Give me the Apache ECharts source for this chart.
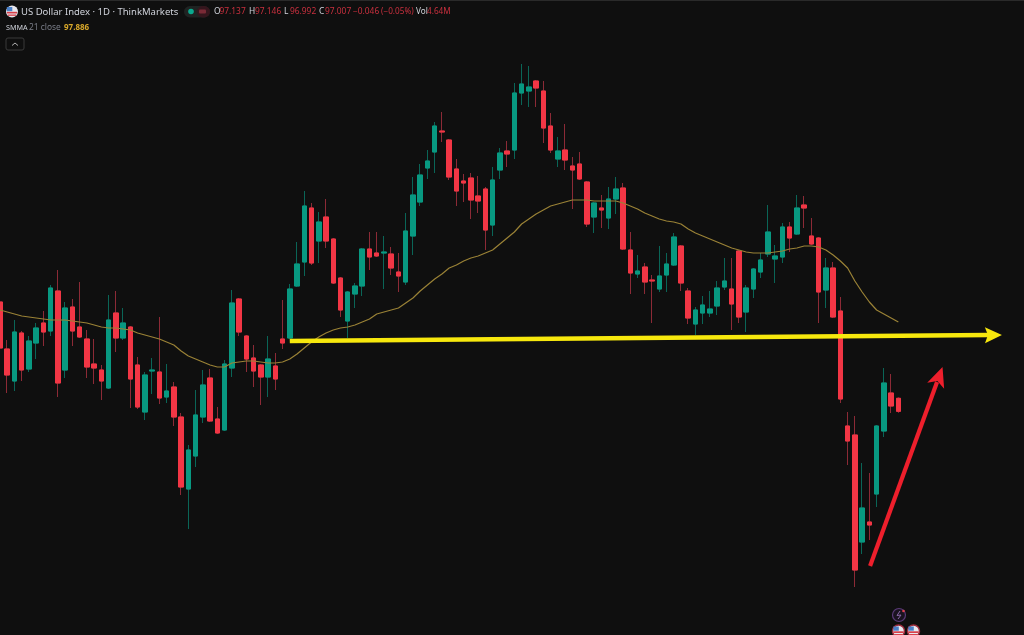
<!DOCTYPE html>
<html><head><meta charset="utf-8">
<style>html,body{margin:0;padding:0;background:#0f0f0f}#c{width:1024px;height:635px}</style>
<script src="https://cdn.jsdelivr.net/npm/echarts@6/dist/echarts.min.js"></script>
</head><body><div id="c"></div>
<script>
const openP=[98.10,97.63,97.31,97.79,97.43,97.69,97.89,97.81,98.21,97.42,98.05,97.85,97.73,97.48,97.42,97.24,97.99,97.74,97.85,97.47,97.00,97.41,97.40,97.15,97.25,96.95,96.23,96.56,96.95,97.34,96.93,96.82,97.44,98.13,97.76,97.54,97.47,97.35,97.46,97.73,97.74,98.26,98.50,99.04,98.71,98.95,98.73,98.34,97.91,98.18,98.26,98.63,98.59,98.59,98.58,98.40,98.30,98.76,99.10,99.44,99.60,99.81,99.72,99.43,99.31,99.34,99.16,99.23,98.87,99.42,99.61,99.62,100.19,100.21,100.31,100.21,99.86,99.53,99.62,99.46,99.48,99.30,98.95,99.04,98.94,99.13,99.24,98.62,98.38,98.45,98.32,98.23,98.37,98.47,98.66,98.21,97.88,97.99,97.99,98.06,98.25,98.23,98.61,98.00,98.23,98.40,98.58,98.53,98.55,98.85,98.78,99.07,98.76,98.74,98.22,98.44,98.01,96.86,96.77,95.70,95.90,96.18,96.81,97.19,97.137];
const closeP=[97.64,97.37,97.80,97.42,97.71,97.84,97.80,98.24,97.29,98.04,97.81,97.75,97.45,97.44,97.31,97.92,97.74,97.89,97.33,97.05,97.37,97.42,97.14,97.21,96.95,96.25,96.62,96.97,97.27,96.91,96.79,97.48,98.09,97.80,97.53,97.41,97.35,97.53,97.33,97.69,98.23,98.48,99.06,98.49,98.90,98.71,98.29,98.02,98.20,98.26,98.63,98.55,98.56,98.60,98.44,98.36,98.81,99.17,99.37,99.51,99.86,99.80,99.35,99.21,99.29,99.12,99.11,98.82,99.32,99.59,99.58,100.19,100.28,100.25,100.24,99.84,99.62,99.61,99.52,99.42,99.33,98.88,99.09,99.02,99.13,99.23,98.63,98.39,98.41,98.30,98.31,98.36,98.48,98.75,98.29,97.94,98.02,98.07,98.03,98.24,98.31,98.08,97.95,98.24,98.43,98.52,98.80,98.56,98.85,98.74,99.04,99.04,98.68,98.20,98.44,97.95,97.13,96.71,95.42,96.04,95.87,96.86,97.29,97.06,97.007];
const lowP=[97.62,97.19,97.21,97.31,97.40,97.53,97.66,97.76,97.15,97.34,97.66,97.74,97.34,97.28,97.12,97.23,97.60,97.72,97.04,97.03,96.92,97.18,97.08,97.09,96.86,96.17,95.83,96.45,96.89,96.90,96.78,96.81,97.35,97.76,97.40,97.25,97.07,97.15,97.22,97.63,97.73,98.25,98.36,98.47,98.49,98.64,98.28,97.95,97.74,98.04,98.16,98.42,98.55,98.23,98.37,98.20,98.27,98.57,99.06,99.33,99.39,99.70,99.32,99.06,99.10,98.93,98.99,98.62,98.76,99.33,99.45,99.53,100.07,100.05,100.05,99.69,99.59,99.45,99.42,99.03,99.32,98.85,98.79,98.84,98.83,98.98,98.62,98.18,98.34,98.18,97.89,98.20,98.20,98.46,98.21,97.88,97.77,97.88,97.95,97.97,98.22,97.82,97.89,97.80,98.14,98.34,98.55,98.29,98.49,98.60,98.77,98.84,98.67,97.89,98.04,97.94,97.09,96.47,95.25,95.58,95.72,96.05,96.75,96.99,96.992];
const highP=[98.12,97.72,97.92,97.81,97.76,97.89,98.01,98.27,98.42,98.10,98.13,98.30,97.82,97.73,97.47,98.17,98.21,98.04,97.86,97.55,97.40,97.54,97.95,97.48,97.30,96.99,96.67,97.22,97.42,97.43,97.05,97.52,98.22,98.14,97.77,97.67,97.48,97.76,97.59,98.12,98.28,98.70,99.21,99.09,99.00,99.13,98.74,98.35,98.21,98.29,98.64,98.80,98.80,98.76,98.65,98.59,98.99,99.35,99.48,99.62,99.90,100.00,99.73,99.53,99.38,99.39,99.36,99.25,99.45,99.64,99.71,100.29,100.48,100.46,100.32,100.31,99.99,99.75,99.88,99.55,99.60,99.31,99.10,99.17,99.25,99.35,99.29,98.80,98.57,98.49,98.37,98.66,98.59,98.79,98.67,98.24,98.05,98.16,98.21,98.31,98.54,98.54,98.62,98.27,98.44,98.59,99.07,98.67,98.89,98.90,99.17,99.16,98.94,98.75,98.54,98.50,98.15,97.00,96.96,96.49,96.39,96.87,97.44,97.38,97.146];
const smma=[98.02,98.00,97.98,97.96,97.95,97.94,97.93,97.92,97.92,97.92,97.91,97.90,97.89,97.87,97.85,97.84,97.84,97.83,97.82,97.79,97.77,97.75,97.73,97.70,97.67,97.61,97.56,97.53,97.50,97.47,97.45,97.45,97.49,97.50,97.51,97.51,97.50,97.49,97.49,97.50,97.53,97.58,97.64,97.70,97.75,97.79,97.82,97.84,97.85,97.87,97.90,97.93,97.98,98.00,98.02,98.04,98.09,98.14,98.21,98.27,98.33,98.38,98.44,98.47,98.51,98.54,98.56,98.59,98.62,98.68,98.74,98.80,98.88,98.93,98.98,99.02,99.06,99.08,99.10,99.12,99.12,99.12,99.11,99.11,99.11,99.11,99.09,99.06,99.03,98.99,98.96,98.93,98.91,98.90,98.88,98.83,98.79,98.76,98.73,98.70,98.67,98.64,98.62,98.60,98.59,98.59,98.59,98.60,98.61,98.63,98.64,98.66,98.66,98.65,98.62,98.57,98.51,98.44,98.31,98.20,98.10,98.02,97.98,97.94,97.90];
// Drawn annotations: [bar position, price] start and tip
const yellowArrow=[[40.0,97.71],[138.3,97.77]];
const redArrow=[[120.1,95.46],[130.1,97.45]];
const slotCount=142;
const cats=Array.from({length:slotCount},(_,i)=>String(i));
const pad=a=>a.concat(Array(slotCount-a.length).fill(null));
const candles=openP.map((o,i)=>[o,closeP[i],lowP[i],highP[i]]);
const bodies=openP.map((o,i)=>[o,closeP[i],Math.min(o,closeP[i]),Math.max(o,closeP[i])]);
const UP='#089981',DOWN='#f23645';
function arrow(pts,color,w,len,half,notch){
  return {type:'custom',xAxisIndex:1,yAxisIndex:0,silent:true,z:6,clip:false,data:[pts[0].concat(pts[1])],
    renderItem:(p,api)=>{
      const a=api.coord([api.value(0),api.value(1)]),b=api.coord([api.value(2),api.value(3)]);
      const dx=b[0]-a[0],dy=b[1]-a[1],d=Math.hypot(dx,dy),ux=dx/d,uy=dy/d,nx=-uy,ny=ux;
      const P=(l,s)=>[b[0]-ux*l+nx*s,b[1]-uy*l+ny*s];
      return {type:'group',children:[
        {type:'line',shape:{x1:a[0],y1:a[1],x2:b[0]-ux*len*0.8,y2:b[1]-uy*len*0.8},style:{stroke:color,lineWidth:w,lineCap:'butt'}},
        {type:'polygon',shape:{points:[[b[0],b[1]],P(len,half),P(notch,0),P(len,-half)]},style:{fill:color}}
      ]};
    }};
}
const F='"Noto Sans","Liberation Sans",sans-serif';
const G='#d1d4dc',R='#c8303e',Y='#d9a92b';
const txt=(x,y,t,fill,s,w)=>({type:'text',x,y,silent:true,style:{text:t,fill,font:(w||'normal')+' '+(s||9)+'px '+F,textVerticalAlign:'middle'}});
function flag(cx,cy,r,ring){
  const c=[];
  c.push({type:'circle',shape:{cx,cy,r},style:{fill:'#e8e8ee',stroke:ring||null,lineWidth:ring?1.5:0}});
  c.push({type:'rect',shape:{x:cx-r*0.85,y:cy+r*0.05,width:r*1.7,height:r*0.28},style:{fill:'#d8404a'}});
  c.push({type:'rect',shape:{x:cx-r*0.7,y:cy+r*0.5,width:r*1.4,height:r*0.22},style:{fill:'#d8404a'}});
  c.push({type:'rect',shape:{x:cx-r*0.85,y:cy-r*0.75,width:r*0.9,height:r*0.7},style:{fill:'#4a80c8'}});
  return c;
}
const graphicEls=[
  {type:'rect',shape:{x:0,y:0,width:1024,height:1},style:{fill:'#2a2a2a'}},
  ...flag(12,11.5,6),
  txt(21,12,'US Dollar Index · 1D · ThinkMarkets',G,9.5),
  {type:'rect',shape:{x:184,y:6,width:26,height:11.5,r:5.7},style:{fill:'#1f2322'}},
  {type:'rect',shape:{x:197,y:6,width:13,height:11.5,r:5.7},style:{fill:'#35161d'}},
  {type:'circle',shape:{cx:191,cy:11.5,r:2.8},style:{fill:'#0ba98e'}},
  {type:'rect',shape:{x:199,y:9.5,width:7,height:4,r:1},style:{fill:'#7a2a36'}},
  txt(214,12,'O',G,8.4), txt(219.5,12,'97.137',R,8.4),
  txt(249,12,'H',G,8.4), txt(255,12,'97.146',R,8.4),
  txt(284,12,'L',G,8.4), txt(290,12,'96.992',R,8.4),
  txt(319,12,'C',G,8.4), txt(325,12,'97.007',R,8.4),
  txt(353,12,'−0.046',R,8.4), txt(381,12,'(−0.05%)',R,8.2),
  txt(416,12,'Vol',G,8.2), txt(427,12,'4.64M',R,8.2),
  txt(6,28,'SMMA',G,7.2), txt(29,28,'21 close','#7a7d88',8.4), txt(64,28,'97.886',Y,8,'bold'),
  {type:'rect',shape:{x:6,y:38,width:18,height:12,r:2},style:{fill:'none',stroke:'#3a3a3a',lineWidth:1}},
  {type:'polyline',shape:{points:[[12,45.5],[15,43],[18,45.5]]},style:{stroke:'#b0b0b0',lineWidth:1,fill:'none'}},
  {type:'circle',shape:{cx:899,cy:615,r:6.5},style:{fill:'#1a1320',stroke:'#5a3a78',lineWidth:1.2}},
  {type:'polyline',shape:{points:[[900,611],[897,615.5],[901,615],[898,619]]},style:{stroke:'#8a68a8',lineWidth:1,fill:'none'}},
  {type:'circle',shape:{cx:903.5,cy:611,r:1.3},style:{fill:'#e04050'}},
  ...flag(898.5,631,6,'#9c2c3c'),
  ...flag(913.5,631,6,'#9c2c3c')
];
const chart=echarts.init(document.getElementById('c'),null,{renderer:'canvas'});
chart.setOption({
  animation:false,backgroundColor:'#0f0f0f',
  grid:{left:0,top:0,width:1021.5,height:635,containLabel:false},
  xAxis:[
    {type:'category',data:cats,boundaryGap:false,show:false},
    {type:'value',min:0,max:slotCount-1,show:false}
  ],
  yAxis:{type:'value',min:94.77,max:101.12,show:false,scale:true,splitLine:{show:false}},
  graphic:graphicEls,
  series:[
    {type:'candlestick',name:'wicks',barWidth:5,data:candles,z:2,silent:true,
      itemStyle:{color:UP,color0:DOWN,borderColor:'#0a6557',borderColor0:'#8c2a36',borderWidth:1}},
    {type:'candlestick',name:'US Dollar Index',barWidth:5,data:bodies,z:3,silent:true,
      itemStyle:{color:UP,color0:DOWN,borderColor:UP,borderColor0:DOWN,borderWidth:1}},
    {type:'line',name:'SMMA 21',data:pad(smma),showSymbol:false,smooth:false,z:4,silent:true,
      lineStyle:{color:'#9a8236',width:1.2}},
    arrow(yellowArrow,'#f7e80d',4.5,17,8,14),
    arrow(redArrow,'#ee1f2c',4.2,20,9,15)
  ]
});
</script></body></html>
